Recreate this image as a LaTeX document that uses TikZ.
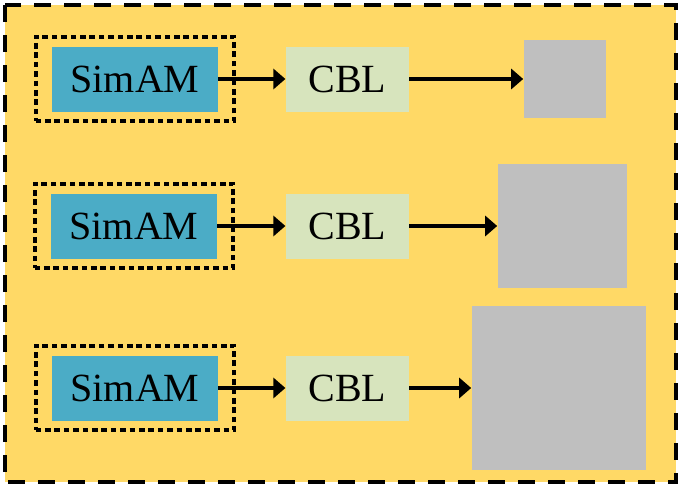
\documentclass[tikz,border=0pt]{standalone}
\usepackage{fontspec}
\setmainfont{Liberation Serif}
\usetikzlibrary{positioning, arrows.meta, fit}

\definecolor{panelyellow}{HTML}{FFD966}
\definecolor{simblue}{HTML}{4BACC6}
\definecolor{cblgreen}{HTML}{D7E4BD}
\definecolor{featgray}{HTML}{BFBFBF}

\begin{document}
\begin{tikzpicture}[
    x=0.5pt, y=-0.5pt,
    >=Stealth,
    block/.style={rectangle, inner sep=0pt, font=\fontsize{20}{24}\selectfont},
    sim/.style={block, fill=simblue, minimum width=83pt, minimum height=32.5pt},
    cbl/.style={block, fill=cblgreen, minimum width=61.5pt, minimum height=32.5pt},
    feat/.style={rectangle, fill=featgray, inner sep=0pt},
    dbox/.style={draw, line width=2pt, dash pattern=on 2.8pt off 1.9pt,
                 inner xsep=8pt, inner ysep=4.75pt},
    arrow/.style={-{Stealth[length=6pt, width=10pt, inset=0pt]}, line width=2.2pt}
]
  % background and outer frame
  \useasboundingbox (0,0) rectangle (682,493);
  \fill[white] (0,0) rectangle (682,493);
  \draw[fill=panelyellow, line width=2pt, dash pattern=on 8.5pt off 6.5pt]
    (5,5) rectangle (676,482);

  % row 1
  \node[sim] (sim1) at (135,79) {SimAM};
  \node[dbox, fit=(sim1)] (box1) {};
  \node[cbl, right=33.5pt of sim1] (cbl1) {CBL};
  \node[feat, minimum width=41pt, minimum height=39pt, right=57pt of cbl1] (out1) {};

  % row 2
  \node[sim] (sim2) at (134,226) {SimAM};
  \node[dbox, fit=(sim2)] (box2) {};
  \node[cbl, right=34pt of sim2] (cbl2) {CBL};
  \node[feat, minimum width=64.5pt, minimum height=62pt, right=44pt of cbl2] (out2) {};

  % row 3
  \node[sim] (sim3) at (135,388) {SimAM};
  \node[dbox, fit=(sim3)] (box3) {};
  \node[cbl, right=33.5pt of sim3] (cbl3) {CBL};
  \node[feat, minimum width=87pt, minimum height=82pt, right=31pt of cbl3] (out3) {};

  \foreach \i in {1,2,3} {
    \draw[arrow] (sim\i) -- (cbl\i);
    \draw[arrow] (cbl\i) -- (out\i);
  }
\end{tikzpicture}
\end{document}
